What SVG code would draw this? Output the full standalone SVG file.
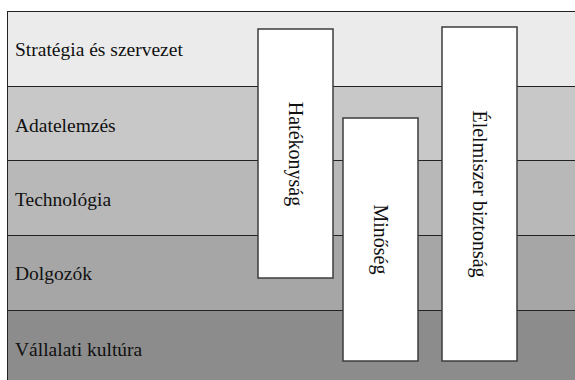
<svg xmlns="http://www.w3.org/2000/svg" width="575" height="380" viewBox="0 0 575 380">
  <style>
    .band { stroke: #222; stroke-width: 1; }
    .label { font-family: 'Liberation Serif', Tinos, 'Times New Roman', serif; font-size: 19.5px; fill: #111; }
    .pillar rect { fill: #fff; stroke: #3c3c3c; stroke-width: 1.5; }
    .pillar text { font-family: 'Liberation Serif', Tinos, 'Times New Roman', serif; font-size: 20px; fill: #111; text-anchor: middle; }
  </style>
  <rect width="575" height="380" fill="#fff"/>

  <!-- horizontal layers -->
  <g id="layers">
    <g id="layer-strategy">
      <rect class="band" x="7.5" y="11.5" width="580" height="75" fill="#ebebeb"/>
      <text class="label" x="15" y="56">Stratégia és szervezet</text>
    </g>
    <g id="layer-analytics">
      <rect class="band" x="7.5" y="86.5" width="580" height="74" fill="#c8c8c8"/>
      <text class="label" x="15" y="132">Adatelemzés</text>
    </g>
    <g id="layer-technology">
      <rect class="band" x="7.5" y="160.5" width="580" height="75" fill="#b8b8b8"/>
      <text class="label" x="15" y="206">Technológia</text>
    </g>
    <g id="layer-staff">
      <rect class="band" x="7.5" y="235.5" width="580" height="75" fill="#a6a6a6"/>
      <text class="label" x="15" y="280">Dolgozók</text>
    </g>
    <g id="layer-culture">
      <rect class="band" x="7.5" y="310.5" width="580" height="80" fill="#8c8c8c"/>
      <text class="label" x="15" y="356">Vállalati kultúra</text>
    </g>
  </g>

  <!-- vertical pillars -->
  <g id="pillar-efficiency" class="pillar">
    <rect x="258" y="29" width="75" height="249"/>
    <text transform="translate(295.5 154) rotate(90)" dy="7">Hatékonyság</text>
  </g>
  <g id="pillar-quality" class="pillar">
    <rect x="343" y="118" width="75" height="243"/>
    <text transform="translate(380.5 239.5) rotate(90)" dy="7">Minőség</text>
  </g>
  <g id="pillar-food-safety" class="pillar">
    <rect x="442" y="27" width="75" height="334"/>
    <text transform="translate(479.5 194) rotate(90)" dy="7">Élelmiszer biztonság</text>
  </g>
</svg>
